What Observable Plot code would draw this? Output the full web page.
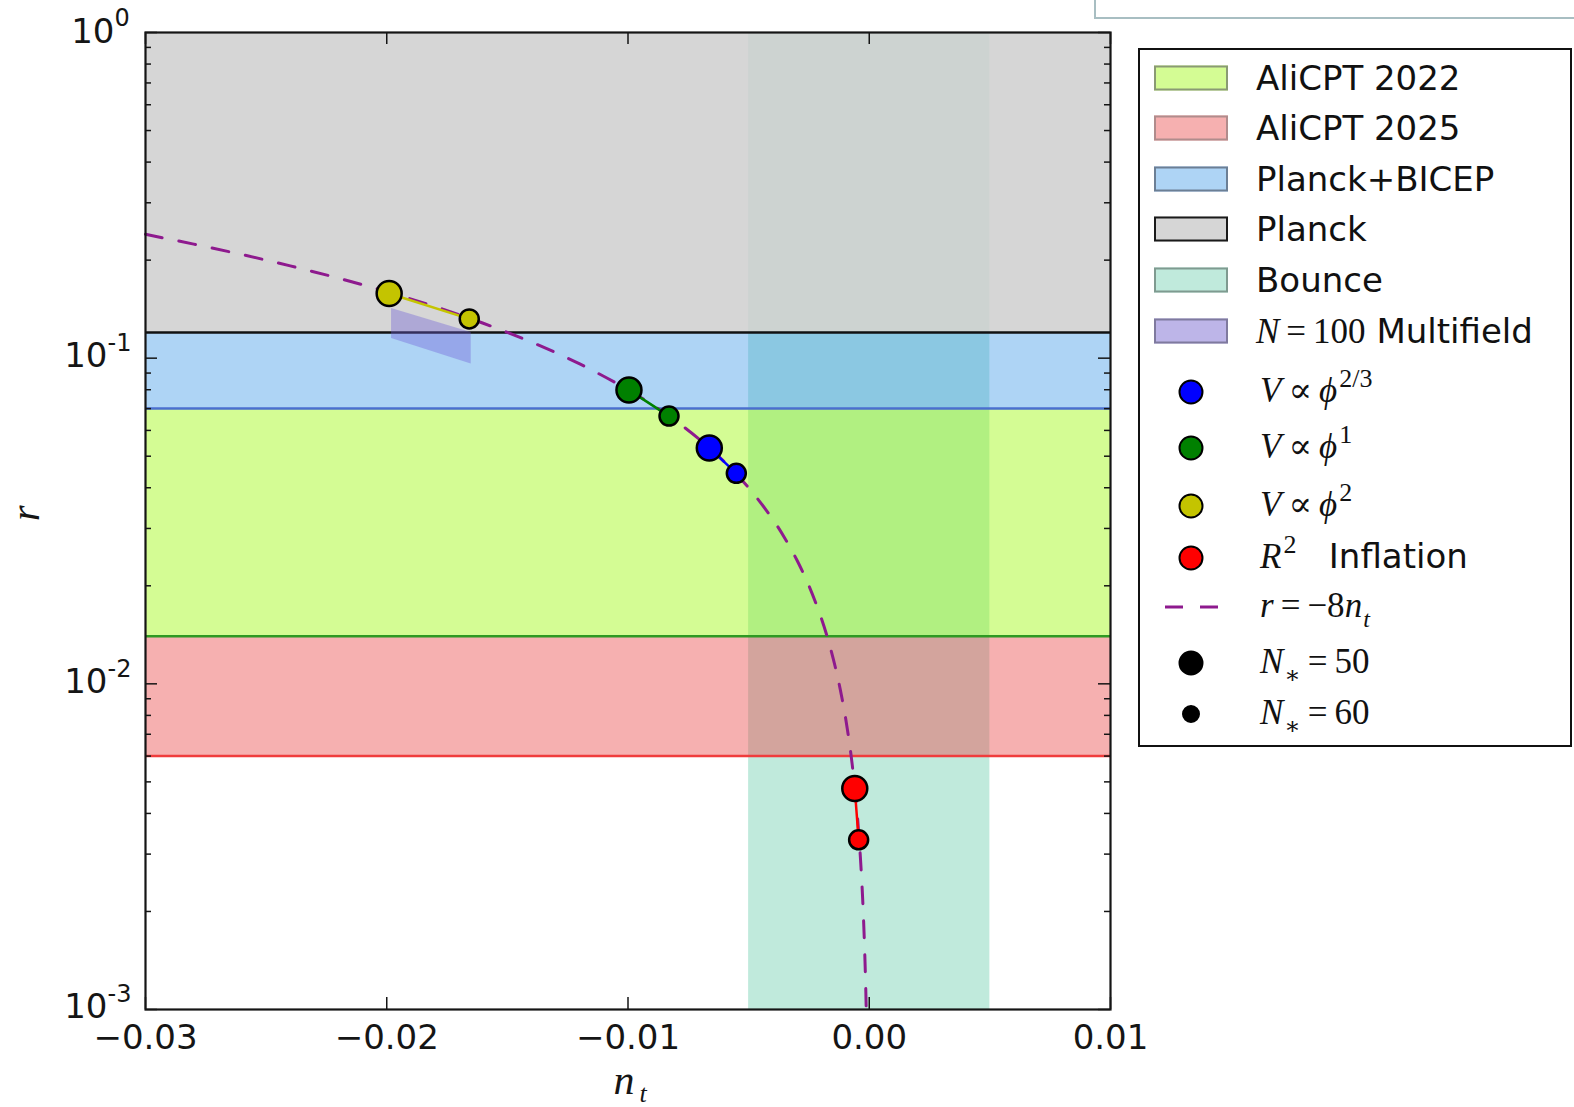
<!DOCTYPE html>
<html>
<head>
<meta charset="utf-8">
<script src="https://cdn.jsdelivr.net/npm/d3@7"></script>
<script src="https://cdn.jsdelivr.net/npm/@observablehq/plot@0.6"></script>
<style>
html, body { margin: 0; padding: 0; background: #fff; }
#wrap { position: relative; width: 1574px; height: 1107px; overflow: hidden; font-family: "DejaVu Sans", sans-serif; }
#chart { position: absolute; left: 0; top: 0; }
#topbox { position: absolute; left: 1094px; top: -6px; width: 520px; height: 21px; border: 2px solid #a8bec2; background: #fff; }
#legend { position: absolute; left: 1138px; top: 48px; width: 434px; height: 699px; border: 2px solid #111; box-sizing: border-box; background: #fff; }
.patch { position: absolute; left: 14px; width: 74px; height: 25px; box-sizing: border-box; border: 2px solid #888; transform: translateY(-50%); }
.lbl { position: absolute; left: 116px; transform: translateY(-50%); font-size: 34px; line-height: 40px; white-space: nowrap; color: #111; }
.mk { position: absolute; border-radius: 50%; border: 2px solid #000; box-sizing: border-box; transform: translate(-50%, -50%); }
.dash { position: absolute; height: 3px; background: #8e1a8e; transform: translateY(-50%); }
.m { font-family: "Liberation Serif", "DejaVu Serif", serif; font-style: italic; font-size: 35px; }
.rm { font-family: "Liberation Serif", "DejaVu Serif", serif; font-style: normal; font-size: 35px; }
.rel { font-family: "Liberation Serif", "DejaVu Serif", serif; font-style: normal; font-size: 35px; margin: 0 7px; }
.sup { font-family: "Liberation Serif", "DejaVu Serif", serif; font-size: 26px; position: relative; top: -15px; margin-left: 2px; }
.sub { font-family: "Liberation Serif", "DejaVu Serif", serif; font-size: 24px; position: relative; top: 10px; margin-left: 1px; }
</style>
</head>
<body>
<div id="wrap">
  <div id="chart"></div>
  <div id="topbox"></div>
  <div id="legend"></div>
</div>
<script>
// ---------- data ----------
const xDomain = [-0.03, 0.01];
const yDomain = [0.001, 1];
const xTicks = [-0.03, -0.02, -0.01, 0.0, 0.01];
const xTickLabels = ["−0.03", "−0.02", "−0.01", "0.00", "0.01"];
const yTicks = [0.001, 0.01, 0.1, 1];
const yTickExps = ["-3", "-2", "-1", "0"];
const yMinorTicks = [0.002, 0.003, 0.004, 0.005, 0.006, 0.007, 0.008, 0.009,
                     0.02, 0.03, 0.04, 0.05, 0.06, 0.07, 0.08, 0.09,
                     0.2, 0.3, 0.4, 0.5, 0.6, 0.7, 0.8, 0.9];

const bandNames = ["Planck", "Planck+BICEP", "AliCPT 2022", "AliCPT 2025"];
const bandLow  = [0.12, 0.07, 0.014, 0.006];
const bandHigh = [1.0, 0.12, 0.07, 0.014];
const bounceRange = [-0.005, 0.005];

const multiNt   = [-0.0198, -0.0165];
const multiLow  = [0.115, 0.096];
const multiHigh = [0.142, 0.120];

const modelKeys = ["phi2", "phi1", "phi23", "R2"];
const ntN50 = [-0.0199, -0.00996, -0.00663, -0.00060];
const rN50  = [0.158, 0.0798, 0.0530, 0.00477];
const ntN60 = [-0.01658, -0.00830, -0.00551, -0.00044];
const rN60  = [0.132, 0.0664, 0.0443, 0.00332];

// r = -8 n_t consistency line, read point by point
const lineNt = [-0.030, -0.028, -0.026, -0.024, -0.022, -0.020, -0.018, -0.016, -0.014, -0.012,
                -0.010, -0.009, -0.008, -0.007, -0.006, -0.005, -0.004, -0.0035, -0.003, -0.0025,
                -0.002, -0.0017, -0.0014, -0.0012, -0.001, -0.0008, -0.0007, -0.0006, -0.0005, -0.0004,
                -0.0003, -0.00025, -0.0002, -0.00015, -0.000125];
const lineR  = [0.24, 0.224, 0.208, 0.192, 0.176, 0.16, 0.144, 0.128, 0.112, 0.096,
                0.08, 0.072, 0.064, 0.056, 0.048, 0.04, 0.032, 0.028, 0.024, 0.02,
                0.016, 0.0136, 0.0112, 0.0096, 0.008, 0.0064, 0.0056, 0.0048, 0.004, 0.0032,
                0.0024, 0.002, 0.0016, 0.0012, 0.001];

// ---------- styles ----------
const bandFill = {"Planck": "#cfcfcf", "Planck+BICEP": "#4b9fe9", "AliCPT 2022": "#9ff811", "AliCPT 2025": "#eb4f4f"};
const bandOpacity = {"Planck": 0.85, "Planck+BICEP": 0.45, "AliCPT 2022": 0.45, "AliCPT 2025": 0.45};
const bandEdge = {"Planck": "#111111", "Planck+BICEP": "#4a6fcf", "AliCPT 2022": "#2e9a22", "AliCPT 2025": "#f03c3c"};
const modelColor = {"phi2": "#c4c400", "phi1": "#008000", "phi23": "#0000ff", "R2": "#ff0000"};
const bounceFill = "#c0eadc";
const multiFill = "#6e5fd8";

// ---------- tables ----------
const bands = bandNames.map((name, i) => ({name, lo: bandLow[i], hi: bandHigh[i]}));
const bounce = [{x1: bounceRange[0], x2: bounceRange[1]}];
const multi = multiNt.map((x, i) => ({x, lo: multiLow[i], hi: multiHigh[i]}));
const pts50 = modelKeys.map((m, i) => ({model: m, nt: ntN50[i], r: rN50[i]}));
const pts60 = modelKeys.map((m, i) => ({model: m, nt: ntN60[i], r: rN60[i]}));
const ptsAll = [...pts50, ...pts60];
const consistency = lineNt.map((x, i) => ({x, y: lineR[i]}));
const xt = xTicks.map((v, i) => ({v, label: xTickLabels[i]}));
const yt = yTicks.map((v, i) => ({v, exp: yTickExps[i]}));

const W = 1574, H = 1107, mL = 145, mR = 464, mT = 32, mB = 98;
const fw = W - mL - mR, fh = H - mT - mB;
const ink = "#151515";

const plot = Plot.plot({
  width: W, height: H,
  marginLeft: mL, marginRight: mR, marginTop: mT, marginBottom: mB,
  style: {fontFamily: "DejaVu Sans", background: "transparent", overflow: "visible"},
  x: {domain: xDomain, axis: null},
  y: {type: "log", domain: yDomain, axis: null},
  color: {domain: modelKeys, range: modelKeys.map(k => modelColor[k])},
  marks: [
    // Bounce band (full height)
    Plot.rect(bounce, {x1: "x1", x2: "x2", y1: yDomain[0], y2: yDomain[1], fill: bounceFill}),
    // r bounds bands
    ...bands.map(b => Plot.rect([b], {x1: xDomain[0], x2: xDomain[1], y1: "lo", y2: "hi",
                                       fill: bandFill[b.name], fillOpacity: bandOpacity[b.name]})),
    ...bands.map(b => Plot.ruleY([b.lo], {stroke: bandEdge[b.name], strokeWidth: 2.5})),
    // multifield region
    Plot.areaY(multi, {x: "x", y1: "lo", y2: "hi", fill: multiFill, fillOpacity: 0.38}),
    // consistency relation
    Plot.line(consistency, {x: "x", y: "y", stroke: "#8e1a8e", strokeWidth: 3,
                             strokeDasharray: "17,17", curve: "catmull-rom"}),
    // model segments
    Plot.line(ptsAll, {x: "nt", y: "r", z: "model", stroke: "model", strokeWidth: 2.5}),
    Plot.dot(pts50, {x: "nt", y: "r", r: 12.5, fill: "model", stroke: "#000", strokeWidth: 2.5}),
    Plot.dot(pts60, {x: "nt", y: "r", r: 9.5, fill: "model", stroke: "#000", strokeWidth: 2.5}),
    // inward ticks
    Plot.tickX(xTicks, {x: d => d, insetTop: fh - 12, stroke: ink, strokeWidth: 1.5}),
    Plot.tickX(xTicks, {x: d => d, insetBottom: fh - 12, stroke: ink, strokeWidth: 1.5}),
    Plot.tickY(yTicks, {y: d => d, insetRight: fw - 12, stroke: ink, strokeWidth: 1.5}),
    Plot.tickY(yTicks, {y: d => d, insetLeft: fw - 12, stroke: ink, strokeWidth: 1.5}),
    Plot.tickY(yMinorTicks, {y: d => d, insetRight: fw - 6, stroke: ink, strokeWidth: 1.5}),
    Plot.tickY(yMinorTicks, {y: d => d, insetLeft: fw - 6, stroke: ink, strokeWidth: 1.5}),
    Plot.frame({stroke: ink, strokeWidth: 2.2}),
    // x tick labels
    Plot.text(xt, {x: "v", text: "label", frameAnchor: "bottom", dy: 39, fontSize: 34, fill: ink}),
    // y tick labels: "10" with raised exponent
    Plot.text(yt.filter(d => d.exp === "0"), {y: "v", text: () => "10", frameAnchor: "left", textAnchor: "end", dx: -31, fontSize: 34, fill: ink}),
    Plot.text(yt.filter(d => d.exp === "0"), {y: "v", text: "exp", frameAnchor: "left", textAnchor: "start", dx: -31, dy: -14, fontSize: 24, fill: ink}),
    Plot.text(yt.filter(d => d.exp !== "0"), {y: "v", text: () => "10", frameAnchor: "left", textAnchor: "end", dx: -38, dy: -2, fontSize: 34, fill: ink}),
    Plot.text(yt.filter(d => d.exp !== "0"), {y: "v", text: "exp", frameAnchor: "left", textAnchor: "start", dx: -38, dy: -15, fontSize: 24, fill: ink}),
    // axis labels
    Plot.text(["n"], {text: d => d, frameAnchor: "bottom", dx: -4, dy: 84, fontSize: 42, fontStyle: "italic",
                      fontFamily: "Liberation Serif", fill: ink}),
    Plot.text(["t"], {text: d => d, frameAnchor: "bottom", dx: 15, dy: 92, fontSize: 26, fontStyle: "italic",
                      fontFamily: "Liberation Serif", fill: ink}),
    Plot.text(["r"], {text: d => d, frameAnchor: "left", dx: -119, fontSize: 40, fontStyle: "italic",
                      fontFamily: "Liberation Serif", rotate: -90, fill: ink})
  ]
});
document.getElementById("chart").appendChild(plot);

// ---------- legend (HTML) ----------
const patchItems = [
  {label: "AliCPT 2022", fill: "#d4fc94", edge: "#8a9a74"},
  {label: "AliCPT 2025", fill: "#f6b0b0", edge: "#b08c8c"},
  {label: "Planck+BICEP", fill: "#aed4f5", edge: "#6c7f95"},
  {label: "Planck", fill: "#d6d6d6", edge: "#1a1a1a"},
  {label: "Bounce", fill: "#c0eadc", edge: "#7f9a90"},
  {label: '<span class="m">N</span><span class="rel">=</span><span class="rm">100</span> Multifield', fill: "#bdb5e8", edge: "#7f7a9e"}
];
const patchY = [27.5, 78, 129, 179, 229.7, 280.5];
const phi = '<span class="m">V</span><span class="rel">∝</span><span class="m">ϕ</span>';
const markerItems = [
  {label: phi + '<span class="sup">2/3</span>', color: modelColor.phi23, d: 25},
  {label: phi + '<span class="sup">1</span>', color: modelColor.phi1, d: 25},
  {label: phi + '<span class="sup">2</span>', color: modelColor.phi2, d: 25},
  {label: '<span class="m">R</span><span class="sup">2</span>&nbsp;&nbsp; Inflation', color: modelColor.R2, d: 25},
  {label: '<span class="m">r</span><span class="rel">=</span><span class="rm">−8</span><span class="m">n</span><span class="sub" style="font-style:italic">t</span>', dash: true},
  {label: '<span class="m">N</span><span class="sub">∗</span><span class="rel">=</span><span class="rm">50</span>', color: "#000", d: 25},
  {label: '<span class="m">N</span><span class="sub">∗</span><span class="rel">=</span><span class="rm">60</span>', color: "#000", d: 18}
];
const markerY = [341.7, 398.3, 455.7, 508.3, 556.7, 612.7, 664.3];
const leg = document.getElementById("legend");
let html = "";
patchItems.forEach((it, i) => {
  html += `<div class="patch" style="top:${patchY[i]}px;background:${it.fill};border-color:${it.edge}"></div>`;
  html += `<div class="lbl" style="top:${patchY[i]}px">${it.label}</div>`;
});
markerItems.forEach((it, i) => {
  const y = markerY[i];
  if (it.dash) {
    html += `<div class="dash" style="top:${y}px;left:25px;width:18px"></div>`;
    html += `<div class="dash" style="top:${y}px;left:60px;width:18px"></div>`;
  } else {
    html += `<div class="mk" style="left:51px;top:${y}px;width:${it.d}px;height:${it.d}px;background:${it.color}"></div>`;
  }
  html += `<div class="lbl" style="top:${y}px;left:120px">${it.label}</div>`;
});
leg.innerHTML = html;
</script>
</body>
</html>
